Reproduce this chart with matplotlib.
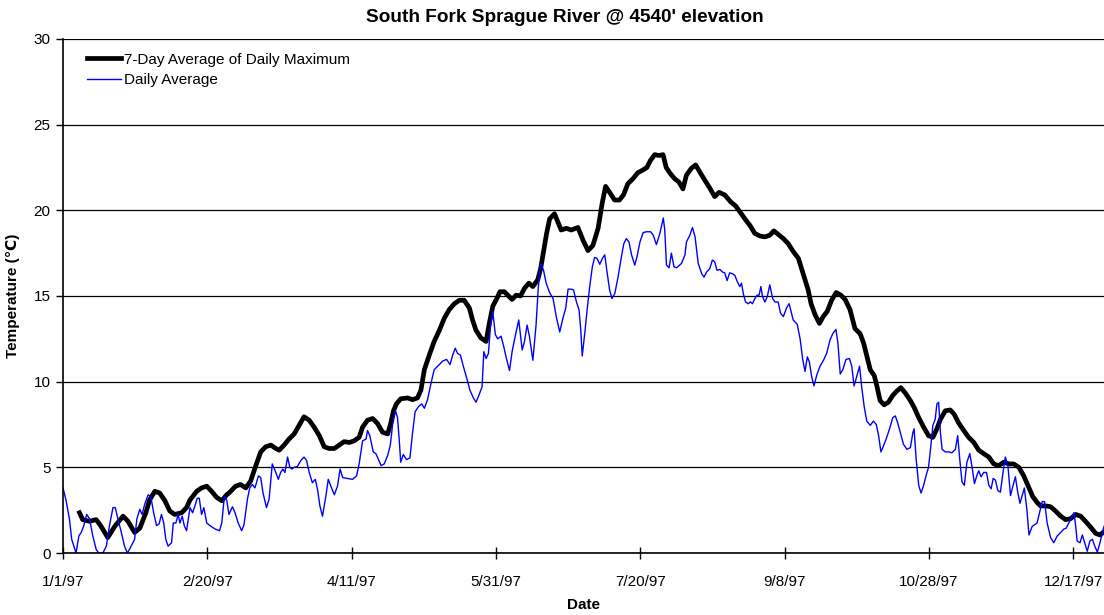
import matplotlib
matplotlib.use('Agg')
import matplotlib.pyplot as plt
import numpy as np

# Day of year (0 = 1/1/97) and temperature
avg_days = [0, 1, 2.2, 3, 4.5, 5.5, 6.3, 7.2, 8.2, 9.2, 10.3, 11.5, 12.4, 13.8, 15, 16.1,
            17.3, 18.1, 19, 20.2, 21.3, 22.3, 23.3, 24.8, 25.6, 26.6, 27.4, 28.3, 29.5, 30.4,
            31.4, 32.4, 33.3, 34.1, 34.9, 35.6, 36.4, 37.6, 38.2, 39.1, 39.9, 40.5, 41.3, 42,
            42.8, 44, 44.9, 45.7, 46.5, 47.2, 48, 48.8, 49.8, 50.9, 52.7, 54.2, 55, 55.9, 56.7,
            57.5, 58.7, 59.6, 60.7, 61.9, 62.7, 63.9, 64.7, 65.6, 66.5, 67.7, 68.5, 69.3, 70.5,
            71.4, 72.5, 73.5, 74.6, 75.4, 76.2, 76.9, 77.8, 78.6, 79.3, 80.1, 81.2, 82.4, 83.5,
            84.4, 85.3, 86.4, 87.4, 88.2, 89, 89.9, 91.1, 91.9, 92.8, 94, 95.1, 96, 96.9, 98.6,
            100.3, 101.7, 102.6, 103.8, 105, 105.5, 106.3, 107.5, 108.4, 109.2, 110.2, 111.3,
            112.5, 113.4, 114.2, 115.2, 115.9, 116.5, 117, 117.9, 119, 120.2, 121.1, 122, 123.2,
            124.3, 125.2, 126.3, 127.5, 128.6, 130.4, 131.5, 132.9, 134.1, 135, 135.9, 136.7,
            137.7, 138.7, 139.9, 141, 142.2, 143.1, 144.2, 145.2, 145.8, 146.6, 147.4, 148.1,
            148.9, 149.8, 150.6, 151.8, 152.7, 153.5, 154.7, 155.6, 156.8, 157.9, 159.1, 159.9,
            160.8, 161.6, 162.8, 163.9, 164.7, 165.5, 166.5, 167.4, 168.6, 169.8, 170.9, 172.1,
            173.2, 174.2, 175, 176.1, 176.9, 177.9, 178.8, 179.4, 179.9, 180.8, 181.6, 182.5,
            183.4, 184.2, 185, 186, 186.9, 187.7, 188.5, 189.4, 190.2, 191.2, 192.3, 193.5,
            194.3, 195.2, 196.1, 197, 198.1, 198.9, 199.9, 201, 202.2, 203.6, 204.5, 205.6,
            206.8, 208, 208.5, 209.1, 210, 210.8, 211.7, 212.6, 214.3, 215.5, 216, 217.2, 218.1,
            219, 220.1, 221.3, 222.1, 223, 224.1, 225, 225.8, 226.6, 227.6, 228.5, 229.3, 230.1,
            231, 232, 232.8, 233.6, 234.5, 235.1, 235.7, 236.5, 237.4, 238.2, 238.9, 239.7,
            240.5, 241.2, 241.8, 242.4, 243.2, 244, 244.9, 245.9, 246.7, 247.8, 248.6, 249.6,
            250.7, 251.6, 253, 254.4, 255.4, 256.3, 257.1, 257.9, 258.6, 259.4, 260.2, 261.2,
            262.3, 263.5, 264.6, 265.8, 266.7, 267.8, 268.5, 269.3, 270.2, 271.3, 272.5, 273.3,
            274.1, 275, 276, 276.8, 277.6, 278.5, 279.7, 280.8, 281.8, 282.6, 283.4, 284.3,
            285.2, 286.4, 287.5, 288.4, 289.2, 290.1, 291.2, 292.4, 293.6, 294.5, 294.9, 295.6,
            296.5, 297.3, 298.2, 299.1, 299.9, 300.7, 301.4, 302.2, 302.8, 303.4, 304, 304.6,
            305.7, 306.9, 308, 309.2, 310, 310.7, 311.5, 312.3, 313.2, 314.2, 315, 315.8, 316.7,
            317.3, 318.1, 319, 320, 320.8, 321.6, 322.3, 323.1, 323.9, 324.8, 325.7, 326.5,
            327.4, 328.3, 329.2, 330, 330.8, 331.6, 333.1, 334, 334.7, 335.8, 337.5, 339.3,
            340.1, 341, 342.2, 343.3, 344.5, 345.7, 346.8, 347.6, 348.5, 349.4, 350.3, 350.9,
            351.4, 352.4, 353.2, 354, 354.9, 355.8, 356.7, 357.5, 358.4, 359.3, 360.7]
avg_temp = [3.8, 3.1, 2.0, 0.8, 0, 1.0, 1.2, 1.6, 2.25, 2.0, 1.0, 0.2, 0, 0, 0.4, 1.6,
            2.65, 2.65, 2.0, 1.2, 0.4, 0, 0.3, 0.8, 2.0, 2.55, 2.25, 2.85, 3.4, 3.3,
            2.35, 1.6, 1.7, 2.25, 1.75, 0.8, 0.4, 0.6, 1.75, 1.75, 2.25, 1.75, 2.15, 1.6,
            1.3, 2.65, 2.35, 2.75, 3.2, 3.2, 2.25, 2.65, 1.75, 1.6, 1.4, 1.3, 1.75, 3.3, 3.1,
            2.25, 2.7, 2.35, 1.75, 1.3, 1.65, 3.15, 3.8, 4.0, 3.8, 4.5, 4.4, 3.5, 2.65,
            3.15, 5.2, 4.8, 4.3, 4.7, 4.9, 4.7, 5.6, 5.0, 4.9, 5.0, 5.05, 5.4, 5.6,
            5.4, 4.7, 4.1, 4.3, 3.7, 2.75, 2.15, 3.35, 4.3, 3.9, 3.4, 3.9, 4.9, 4.4, 4.35,
            4.3, 4.5, 5.2, 6.55, 6.65, 7.15, 6.85, 5.9, 5.8, 5.5, 5.1, 5.2,
            5.7, 6.3, 7.5, 8.3, 7.9, 6.6, 5.3, 5.75, 5.45, 5.55, 7.0, 8.25, 8.55,
            8.7, 8.45, 8.95, 9.9, 10.7, 11.0, 11.2, 11.3, 11.0, 11.55, 11.95, 11.65,
            11.55, 10.9, 10.2, 9.5, 9.05, 8.8, 9.25, 9.7, 11.75, 11.35, 11.65, 13.2,
            14.1, 12.75, 12.5, 12.65, 12.05, 11.45, 10.65, 11.75, 12.75, 13.6, 11.85, 12.35,
            13.3, 12.65, 11.25, 13.3, 15.55, 16.9, 16.5, 15.75, 15.2, 14.85, 13.8, 12.9,
            13.7, 14.3, 15.4, 15.4, 15.35, 14.65, 14.2, 13.0, 11.5, 12.85, 14.2, 15.55,
            16.7, 17.25, 17.2, 16.85, 17.2, 17.4, 16.4, 15.35, 14.85, 15.15, 16.1, 17.3,
            18.05, 18.35, 18.15, 17.4, 16.8, 17.3, 18.15, 18.7, 18.75, 18.75, 18.55, 18.0,
            18.65, 19.55, 18.85, 16.8, 16.65, 17.5, 16.7, 16.65, 16.9, 17.4, 18.15, 18.55, 19.0,
            18.45, 16.9, 16.3, 16.1, 16.4, 16.6, 17.1, 17.0, 16.5, 16.55, 16.4, 16.35, 15.9,
            16.35, 16.3, 16.2, 15.85, 15.55, 15.75, 15.15, 14.65, 14.55, 14.65, 14.55, 14.85,
            15.05, 15.05, 15.55, 14.95, 14.65, 14.95, 15.65, 14.85, 14.65, 14.65, 14.0, 13.8,
            14.3, 14.55, 13.6, 13.35, 12.5, 11.3, 10.6, 11.45, 11.15, 10.3, 9.75, 10.4,
            10.9, 11.25, 11.65, 12.45, 12.8, 13.05, 12.25, 10.45, 10.7, 11.3, 11.35, 10.9,
            9.75, 10.3, 10.9, 9.6, 8.55, 7.7, 7.45, 7.7, 7.5, 6.85, 5.9, 6.25,
            6.65, 7.25, 7.9, 8.0, 7.6, 7.05, 6.35, 6.05, 6.15, 7.05, 7.25, 5.5,
            3.95, 3.5, 3.95, 4.55, 5.0, 6.25, 7.45, 7.8, 8.7, 8.8, 7.05, 6.05,
            5.9, 5.9, 5.85, 6.05, 6.85, 5.5, 4.15, 3.95, 5.3, 5.8, 5.0, 4.05, 4.55,
            4.8, 4.45, 4.7, 4.7, 3.95, 3.75, 4.35, 4.25, 3.65, 3.55, 4.7, 5.6,
            5.1, 3.35, 3.95, 4.45, 3.55, 2.9, 3.8, 2.5, 1.05, 1.55, 1.75, 3.0,
            3.0, 1.75, 0.9, 0.6, 1.0, 1.2, 1.4, 1.45, 1.75, 2.05, 2.35, 1.55,
            0.7, 0.6, 1.05, 0.6, 0.1, 0.7, 0.8, 0.4, 0.05, 0.6, 1.55]

max7_days = [5.7, 6.8, 9.2, 11.5, 13.2, 15.5, 17.9, 20.8, 22.5, 24.8, 26.6, 28.7, 30, 31.8,
             33.5, 35.3, 37, 38.7, 41.1, 42.8, 44, 46.3, 48, 49.8, 51.5, 53.2, 55, 56.7, 57.5,
             59.8, 61.5, 63.3, 65, 66.8, 68.5, 70.2, 72, 73.7, 74.9, 76.6, 78.3, 80.1, 81.8,
             83.5, 85.3, 87, 88.8, 90.5, 92.2, 94, 95.7, 97.4, 99.2, 100.9, 102.6, 103.8, 105.5,
             107.3, 109, 110.7, 112.5, 113.6, 114.5, 115.5, 117, 119.4, 121.1, 122.8, 124,
             125.2, 126.9, 128.6, 130.4, 132.1, 133.8, 135.6, 137.3, 139, 140.8, 141.9, 143.1,
             144.8, 146.6, 147.7, 148.9, 150.3, 151.4, 152.9, 154.1, 155.6, 157, 158.5, 159.9,
             161.4, 162.8, 164.5, 165.5, 166.5, 167.5, 168.6, 170.3, 171.5, 172.6, 174.4,
             176.1, 178.4, 180.2, 181.9, 183.6, 185.4, 186.8, 188, 189.4, 191.1, 192.8, 194.2,
             195.7, 197.5, 199.2, 200.9, 202.3, 203.5, 205, 206.5, 207.9, 209, 210.4, 211.9,
             213.4, 214.8, 216, 217.7, 219.2, 220.6, 222.4, 224.1, 225.8, 227.3, 229.3, 231.3,
             233.1, 234.8, 236.5, 238.1, 239.7, 241.5, 243.2, 244.9, 246.3, 247.8, 249.6,
             251.3, 253, 254.8, 255.9, 257.1, 258.2, 259.2, 260.6, 262.1, 263.4, 264.8, 266.3,
             267.9, 269.5, 271, 272.7, 274.4, 276.2, 277.4, 278.5, 279.7, 281.1, 282, 283.1,
             284.5, 286, 287.5, 288.9, 290.3, 291.8, 293.6, 294.9, 296.5, 298.2, 299.9, 301.4,
             302.8, 304, 305.7, 307.4, 308.8, 310.3, 312.1, 313.8, 315.6, 317.3, 319, 320.8,
             322.5, 324.2, 326, 327.7, 329.4, 331.2, 332.9, 334.6, 336, 337.5, 338.7, 340.4,
             342.2, 343.9, 345.7, 347.4, 349.1, 350.9, 352.6, 354.3, 356.1, 357.8, 359.3, 360.7]
max7_temp = [2.35, 1.95, 1.85, 1.95, 1.55, 0.9, 1.55, 2.15, 1.85, 1.2, 1.45, 2.35, 3.1, 3.6,
             3.5, 3.05, 2.45, 2.25, 2.35, 2.65, 3.1, 3.6, 3.8, 3.9, 3.6, 3.25, 3.05, 3.4, 3.5,
             3.9, 4.0, 3.8, 4.2, 5.1, 5.9, 6.2, 6.3, 6.1, 6.0, 6.3, 6.65, 6.95, 7.45,
             7.95, 7.75, 7.35, 6.85, 6.2, 6.1, 6.1, 6.3, 6.5, 6.45, 6.55, 6.75, 7.35, 7.75,
             7.85, 7.55, 7.05, 6.95, 7.6, 8.3, 8.7, 9.0, 9.05, 8.95, 9.05, 9.5,
             10.7, 11.55, 12.35, 13.0, 13.7, 14.2, 14.55, 14.75, 14.75, 14.3, 13.6, 13.0,
             12.55, 12.35, 13.4, 14.4, 14.85, 15.25, 15.25, 15.05, 14.8, 15.05, 15.0, 15.45,
             15.75, 15.55, 15.95, 16.6, 17.6, 18.6, 19.5, 19.8, 19.3, 18.85, 18.95,
             18.85, 19.0, 18.25, 17.65, 17.95, 18.95, 20.4, 21.4, 21.05, 20.6, 20.6, 20.9,
             21.55, 21.85, 22.2, 22.35, 22.5, 22.9, 23.25, 23.2, 23.25, 22.5, 22.15, 21.85,
             21.65, 21.25, 22.05, 22.45, 22.65, 22.25, 21.75, 21.3, 20.8, 21.05, 20.9, 20.5,
             20.25, 19.85, 19.45, 19.1, 18.65, 18.5, 18.45, 18.55, 18.8, 18.6, 18.35,
             18.05, 17.6, 17.2, 16.6, 15.95, 15.35, 14.55, 13.9, 13.4, 13.8, 14.1, 14.75,
             15.2, 15.05, 14.8, 14.2, 13.1, 12.8, 12.25, 11.5, 10.7, 10.35, 9.75, 8.9,
             8.65, 8.8, 9.2, 9.45, 9.65, 9.35, 8.9, 8.5, 7.9, 7.35, 6.85, 6.75,
             7.25, 7.8, 8.3, 8.35, 8.1, 7.6, 7.15, 6.75, 6.45, 6.0, 5.8, 5.6,
             5.2, 5.1, 5.3, 5.2, 5.2, 5.0, 4.5, 3.85, 3.3, 2.95, 2.75, 2.75,
             2.7, 2.45, 2.15, 1.95, 2.0, 2.25, 2.15, 1.85, 1.5, 1.15, 1.05, 1.25]

tick_days = [0, 50, 100, 150, 200, 250, 300, 350]
tick_labels = ['1/1/97', '2/20/97', '4/11/97', '5/31/97',
               '7/20/97', '9/8/97', '10/28/97', '12/17/97']

plt.rcParams['font.family'] = ['Liberation Sans', 'DejaVu Sans']

fig = plt.figure(figsize=(11.04, 6.15), dpi=100)
ax = fig.add_axes([0.0571, 0.1008, 0.9429, 0.8358])

ax.plot(max7_days, max7_temp, color='black', linewidth=3.4,
        label='7-Day Average of Daily Maximum', solid_joinstyle='round')
ax.plot(avg_days, avg_temp, color='#0000ff', linewidth=1.0, label='Daily Average')

ax.set_xlim(0, 360.7)
ax.set_ylim(0, 30)
ax.set_yticks(np.arange(0, 31, 5))
ax.set_xticks(tick_days)
ax.set_xticklabels(tick_labels)
ax.tick_params(axis='both', labelsize=11, colors='black')
ax.tick_params(axis='x', direction='inout', length=8, width=1, pad=12)
ax.tick_params(axis='y', direction='out', length=5, width=1, pad=4)

ax.yaxis.grid(True, color='black', linewidth=0.9)
ax.set_axisbelow(True)
for side in ['top', 'right']:
    ax.spines[side].set_visible(False)
ax.spines['left'].set_linewidth(1.2)
ax.spines['bottom'].set_linewidth(1.2)

# Title sits centred on the (wider) original chart area, a bit left of the axes centre
fig.text(0.512, 0.971, "South Fork Sprague River @ 4540' elevation",
         fontsize=13.7, fontweight='bold', ha='center', va='center')
ax.set_xlabel('Date', fontsize=11, fontweight='bold', labelpad=6)
ax.set_ylabel('Temperature (\u2103)', fontsize=11, fontweight='bold', labelpad=10)

ax.legend(loc='upper left', bbox_to_anchor=(0.01, 1.0), frameon=False,
          fontsize=11, handlelength=2.2, handletextpad=0.2, labelspacing=0.4)

plt.savefig('out.png', dpi=100)
